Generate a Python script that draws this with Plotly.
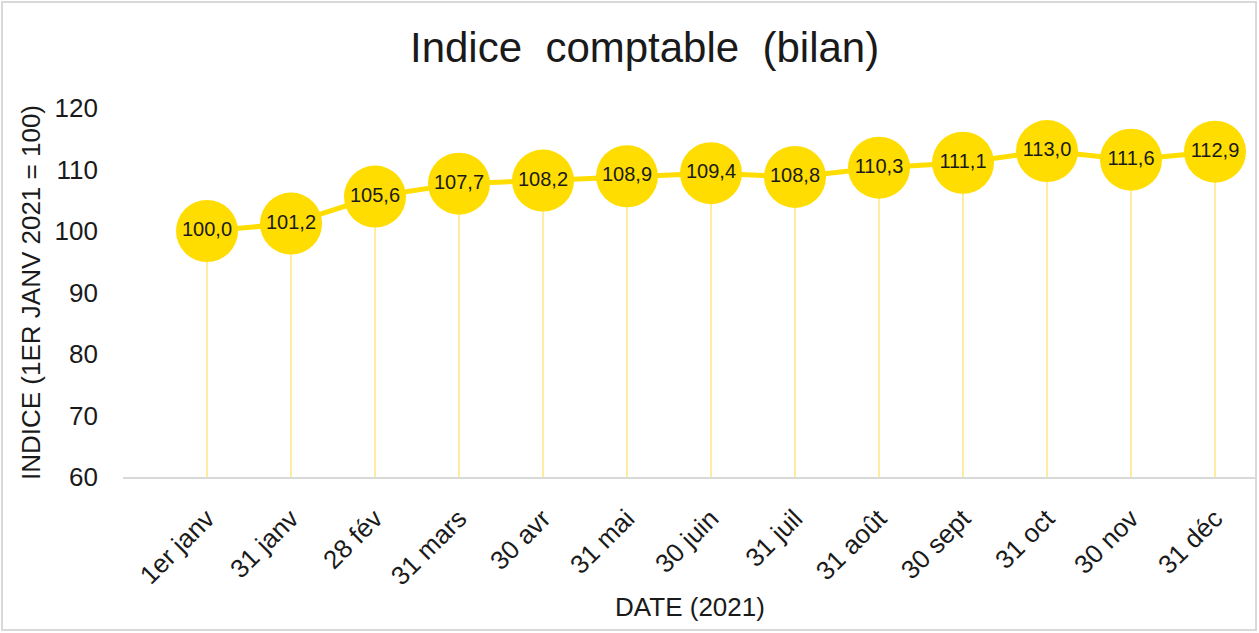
import plotly.graph_objects as go

categories = ["1er janv", "31 janv", "28 fév", "31 mars", "30 avr", "31 mai", "30 juin",
              "31 juil", "31 août", "30 sept", "31 oct", "30 nov", "31 déc"]
values = [100.0, 101.2, 105.6, 107.7, 108.2, 108.9, 109.4, 108.8, 110.3, 111.1, 113.0, 111.6, 112.9]
y_ticks = [60, 70, 80, 90, 100, 110, 120]
y_base = 60

labels = [f"{v:.1f}".replace(".", ",") for v in values]
idx = list(range(len(categories)))

# drop lines
dx, dy = [], []
for i, v in zip(idx, values):
    dx += [i, i, None]
    dy += [y_base, v, None]

W, H = 1259, 633
ml, mr, mt, mb = 123, 2, 108, 156
pw, ph = W - ml - mr, H - mt - mb
FONT = "Liberation Sans, Arial"
TXT = "#1a1a1a"

fig = go.Figure()
fig.add_trace(go.Scatter(x=dx, y=dy, mode="lines", line=dict(color="#FFEC9E", width=2),
                         hoverinfo="skip", showlegend=False))
fig.add_trace(go.Scatter(x=idx, y=values, mode="lines+markers+text", text=labels,
                         textposition="middle center",
                         textfont=dict(family=FONT, size=20, color=TXT),
                         line=dict(color="#FFDD00", width=5),
                         marker=dict(size=62, color="#FFDD00"),
                         cliponaxis=False, showlegend=False))

fig.update_layout(
    width=W, height=H,
    margin=dict(l=ml, r=mr, t=mt, b=mb),
    paper_bgcolor="white", plot_bgcolor="white",
    font=dict(family=FONT, color=TXT),
    title=dict(text="Indice  comptable  (bilan)", x=0.512, xanchor="center", y=0.925, yanchor="middle",
               font=dict(size=42, color=TXT)),
    xaxis=dict(range=[-1, 12.5], tickmode="array", tickvals=idx, ticktext=categories,
               tickangle=-45, tickfont=dict(size=26, color=TXT), ticklabelstandoff=14,
               showgrid=False, zeroline=False, showline=True, linecolor="#d9d9d9", linewidth=2,
               ticks="",
               title=dict(text="DATE (2021)", font=dict(size=26, color=TXT), standoff=8)),
    yaxis=dict(range=[60, 120], tickvals=y_ticks, tickfont=dict(size=26, color=TXT),
               showgrid=False, zeroline=False, showline=False, ticks="", ticklabelstandoff=24,
               title=dict(text="INDICE (1ER JANV 2021 = 100)", font=dict(size=26, color=TXT),
                          standoff=6)),
    shapes=[dict(type="rect", xref="paper", yref="paper",
                 x0=(2 - ml) / pw, x1=(W - 3 - ml) / pw,
                 y0=-(H - 3 - mt - ph) / ph, y1=1 + (mt - 2) / ph,
                 line=dict(color="#d9d9d9", width=2), layer="below")],
)
fig.write_html("out.html", post_script="document.body.style.margin='0';",
               config={"displayModeBar": False})
